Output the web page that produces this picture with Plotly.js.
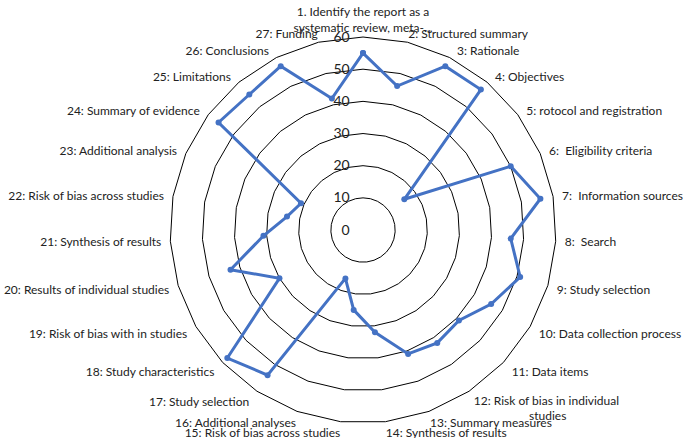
<!DOCTYPE html>
<html>
<head>
<meta charset="utf-8">
<script src="https://cdn.plot.ly/plotly-3.0.1.min.js"></script>
<style>html,body{margin:0;padding:0;background:#fff;}#chart{width:685px;height:438px;}</style>
</head>
<body>
<div id="chart"></div>
<script>
const NB = "\u00a0";
const categories = [
  "1. Identify the report as a<br>systematic review, meta-...",
  "2: Structured summary",
  NB + NB + "3: Rationale",
  NB + NB + "4: Objectives",
  NB + NB + "5: rotocol and registration",
  NB + NB + "6:" + NB + " Eligibility criteria",
  NB + NB + "7:" + NB + " Information sources",
  NB + NB + "8:" + NB + " Search",
  NB + NB + "9: Study selection",
  NB + NB + "10: Data collection process",
  NB + NB + "11: Data items",
  NB + "12: Risk of bias in individual<br>" + NB.repeat(19) + "studies",
  "13: Summary measures",
  "14: Synthesis of results",
  "15: Risk of bias across studies",
  "16: Additional analyses",
  "17: Study selection" + NB + NB,
  "18: Study characteristics" + NB + NB,
  "19: Risk of bias with in studies" + NB + NB,
  "20: Results of individual studies" + NB + NB,
  "21: Synthesis of results" + NB + NB,
  "22: Risk of bias across studies" + NB + NB,
  "23: Additional analysis" + NB + NB,
  "24: Summary of evidence" + NB + NB,
  "25: Limitations" + NB + NB,
  "26: Conclusions" + NB + NB,
  "27: Funding"
];
const values = [55,46,57,57,16,50,56,46,51,46,41,42,41,32,25,16,54,58,30,43,31,24,21,56,55,57,42];
const radialTicks = [0,10,20,30,40,50,60];

const r = values.concat([values[0]]);
const theta = categories.concat([categories[0]]);

const data = [{
  type: 'scatterpolar',
  r: r,
  theta: theta,
  mode: 'lines+markers',
  line: {color: '#4472C4', width: 3},
  marker: {color: '#4472C4', size: 6},
  hoverinfo: 'r+theta'
}];

const layout = {
  width: 685, height: 438,
  margin: {l: 0, r: 0, t: 0, b: 0},
  paper_bgcolor: '#fff',
  showlegend: false,
  font: {family: 'Lato, "Liberation Sans", sans-serif', size: 12, color: '#222'},
  polar: {
    domain: {x: [0.2482, 0.8117], y: [0.0342, 0.9155]},
    bgcolor: '#fff',
    gridshape: 'linear',
    radialaxis: {
      range: [0, 60],
      tickvals: radialTicks,
      ticktext: radialTicks.map(v => String(v) + NB + NB + NB),
      angle: 90,
      tickangle: 90,
      side: 'counterclockwise',
      showline: false,
      ticks: '',
      gridcolor: '#000',
      gridwidth: 1,
      tickfont: {size: 14, color: '#222'}
    },
    angularaxis: {
      direction: 'clockwise',
      rotation: 90,
      showgrid: false,
      showline: true,
      linecolor: '#000',
      linewidth: 1,
      ticks: '',
      tickfont: {size: 12, color: '#222'}
    }
  }
};

Plotly.newPlot('chart', data, layout, {displayModeBar: false, staticPlot: true});
</script>
</body>
</html>
